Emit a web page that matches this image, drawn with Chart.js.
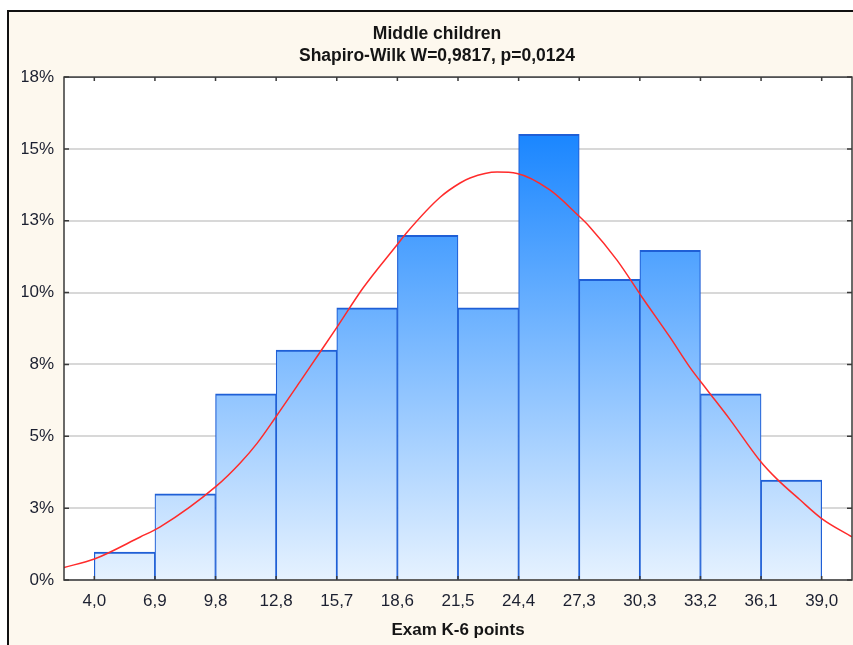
<!DOCTYPE html>
<html>
<head>
<meta charset="utf-8">
<script src="https://cdn.jsdelivr.net/npm/chart.js@4.4.1/dist/chart.umd.min.js"></script>
<style>
  html, body { margin: 0; padding: 0; background: #fff; }
  #wrap { width: 853px; height: 645px; }
</style>
</head>
<body>
<div id="wrap"><canvas id="histChart" width="853" height="645"></canvas></div>
<script>
// bin edges and their printed labels
const binEdges = [4.0, 6.917, 9.833, 12.75, 15.667, 18.583, 21.5, 24.417, 27.333, 30.25, 33.167, 36.083, 39.0];
const tickLabels = ['4,0', '6,9', '9,8', '12,8', '15,7', '18,6', '21,5', '24,4', '27,3', '30,3', '33,2', '36,1', '39,0'];

// share of children per bin (%)
const percents = [1.0, 3.08, 6.66, 8.23, 9.74, 12.34, 9.74, 15.95, 10.76, 11.8, 6.66, 3.58];

// y axis ticks (7 equal steps up to 18%)
const yTickValues = [0, 2.571, 5.143, 7.714, 10.286, 12.857, 15.429, 18];
const yTickLabels = ['0%', '3%', '5%', '8%', '10%', '13%', '15%', '18%'];

// fitted normal curve
const curveX = [2.54, 4.0, 6.21, 7.17, 9.87, 11.02, 11.84, 12.7, 13.9, 14.72, 15.68, 16.93, 18.57, 19.05, 20.64, 21.6, 22.08, 23.38, 24.34, 25.92, 27.27, 27.85, 29.15, 30.35, 31.69, 32.65, 33.47, 34.58, 36.02, 36.84, 37.94, 39.0, 40.46];
const curveY = [0.45, 0.75, 1.54, 1.9, 3.36, 4.19, 4.9, 5.8, 7.1, 8.0, 9.05, 10.45, 12.0, 12.45, 13.7, 14.21, 14.39, 14.6, 14.55, 13.96, 13.06, 12.63, 11.45, 10.13, 8.7, 7.62, 6.82, 5.75, 4.28, 3.62, 2.88, 2.2, 1.54];

const binWidth = binEdges[1] - binEdges[0];
const xMin = binEdges[0] - binWidth / 2;
const xMax = binEdges[binEdges.length - 1] + binWidth / 2;

const FONT = "'Liberation Sans', Arial, sans-serif";

const barData = percents.map((p, i) => ({ x: (binEdges[i] + binEdges[i + 1]) / 2, y: p }));
const curveData = curveX.map((x, i) => ({ x: x, y: curveY[i] }));

// cream frame + white plot background
const framePlugin = {
    id: 'frame',
    beforeDraw(chart) {
        const { ctx, width, height, chartArea } = chart;
        ctx.save();
        ctx.fillStyle = '#ffffff';
        ctx.fillRect(0, 0, width, height);
        ctx.fillStyle = '#fdf8ee';
        ctx.fillRect(8, 11, width, height);
        ctx.fillStyle = '#111111';
        ctx.fillRect(7, 10, 2, height);
        ctx.fillRect(7, 10, width, 2);
        ctx.fillStyle = '#ffffff';
        ctx.fillRect(chartArea.left, chartArea.top, chartArea.right - chartArea.left, chartArea.bottom - chartArea.top);
        ctx.restore();
    },
    afterDraw(chart) {
        const { ctx, chartArea } = chart;
        const { left, right, top, bottom } = chartArea;
        const xs = chart.scales.x, ys = chart.scales.y;
        ctx.save();
        ctx.strokeStyle = '#3a3a3a';
        ctx.lineWidth = 1.5;
        ctx.strokeRect(left, top, right - left, bottom - top);
        ctx.beginPath();
        // ticks pointing inward on all four sides
        xs.ticks.forEach(t => {
            const px = xs.getPixelForValue(t.value);
            ctx.moveTo(px, top); ctx.lineTo(px, top + 4);
            ctx.moveTo(px, bottom); ctx.lineTo(px, bottom - 4);
        });
        ys.ticks.forEach(t => {
            const py = ys.getPixelForValue(t.value);
            ctx.moveTo(left, py); ctx.lineTo(left + 5, py);
            ctx.moveTo(right, py); ctx.lineTo(right - 5, py);
        });
        ctx.stroke();
        ctx.restore();
    }
};

new Chart(document.getElementById('histChart'), {
    type: 'bar',
    data: {
        datasets: [
            {
                type: 'line',
                data: curveData,
                borderColor: '#ff2b2b',
                borderWidth: 1.5,
                pointRadius: 0,
                cubicInterpolationMode: 'monotone',
                fill: false,
                order: 0
            },
            {
                type: 'bar',
                data: barData,
                backgroundColor: (c) => {
                    const chart = c.chart;
                    const ca = chart.chartArea;
                    if (!ca) return '#6aaeff';
                    const y = chart.scales.y;
                    const g = chart.ctx.createLinearGradient(0, y.getPixelForValue(Math.max(...percents)), 0, ca.bottom);
                    g.addColorStop(0, '#1a86ff');
                    g.addColorStop(1, '#e6f2ff');
                    return g;
                },
                borderColor: '#1f5fd6',
                borderWidth: { top: 2, left: 1.2, right: 1.2, bottom: 0 },
                borderSkipped: false,
                barPercentage: 1,
                categoryPercentage: 1,
                order: 1
            }
        ]
    },
    options: {
        responsive: false,
        animation: false,
        layout: {
            padding: { left: 22, right: 1, top: 0, bottom: 0 }
        },
        plugins: {
            legend: { display: false },
            tooltip: { enabled: false },
            title: {
                display: true,
                text: ['Middle children', 'Shapiro-Wilk W=0,9817, p=0,0124'],
                color: '#151515',
                font: { family: FONT, size: 17.5, weight: 'bold', lineHeight: 1.26 },
                padding: { top: 23, bottom: 10 }
            }
        },
        scales: {
            x: {
                type: 'linear',
                min: xMin,
                max: xMax,
                offset: false,
                afterBuildTicks: (scale) => {
                    scale.ticks = binEdges.map(v => ({ value: v }));
                },
                afterFit: (scale) => {
                    scale.height = 65;
                },
                grid: { display: false, drawTicks: false, offset: false },
                border: { display: false },
                ticks: {
                    autoSkip: false,
                    maxRotation: 0,
                    padding: 11,
                    color: '#1c2030',
                    font: { family: FONT, size: 17 },
                    callback: (v, i) => tickLabels[i]
                },
                title: {
                    display: true,
                    text: 'Exam K-6 points',
                    color: '#151515',
                    font: { family: FONT, size: 17, weight: 'bold' },
                    padding: { top: 0, bottom: 4 }
                }
            },
            y: {
                min: 0,
                max: 18,
                afterBuildTicks: (scale) => {
                    scale.ticks = yTickValues.map(v => ({ value: v }));
                },
                afterFit: (scale) => {
                    scale.width = 42;
                },
                grid: { color: '#d8d8d8', lineWidth: 2, drawTicks: false },
                border: { display: false },
                ticks: {
                    padding: 10,
                    color: '#1c2030',
                    font: { family: FONT, size: 17 },
                    callback: (v, i) => yTickLabels[i]
                }
            }
        }
    },
    plugins: [framePlugin]
});
</script>
</body>
</html>
